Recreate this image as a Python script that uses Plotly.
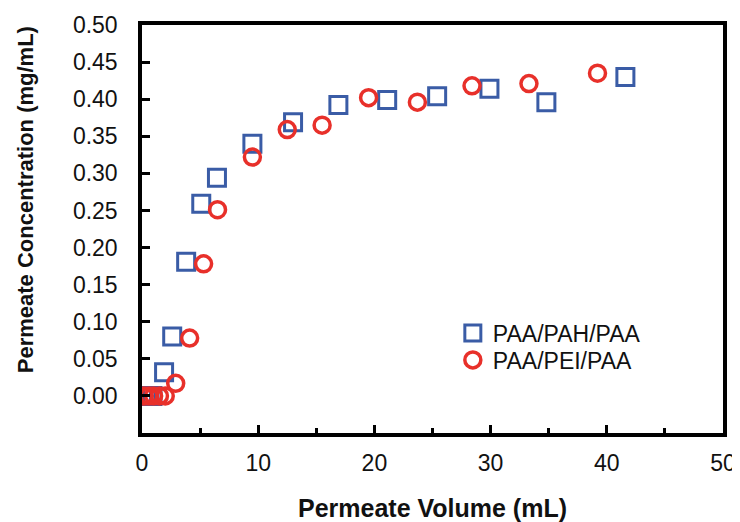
import plotly.graph_objects as go

pah_x = [0.0, 0.4, 0.9, 1.9, 2.6, 3.8, 5.1, 6.45, 9.5, 13.0, 16.9, 21.1, 25.4, 29.9, 34.8, 41.6]
pah_y = [0.0, 0.0, 0.0, 0.032, 0.080, 0.181, 0.259, 0.294, 0.340, 0.369, 0.392, 0.399, 0.404, 0.414, 0.396, 0.430]

pei_x = [0.2, 0.6, 1.0, 1.5, 2.0, 2.9, 4.1, 5.3, 6.5, 9.5, 12.5, 15.5, 19.5, 23.7, 28.4, 33.3, 39.2]
pei_y = [0.0, 0.0, 0.0, 0.0, 0.0, 0.017, 0.078, 0.178, 0.251, 0.322, 0.359, 0.365, 0.402, 0.396, 0.418, 0.421, 0.435]

series_names = ["PAA/PAH/PAA", "PAA/PEI/PAA"]
y_ticks = [0.0, 0.05, 0.10, 0.15, 0.20, 0.25, 0.30, 0.35, 0.40, 0.45, 0.50]
x_ticks = [0, 10, 20, 30, 40, 50]

blue = "#3a5ca6"
red = "#e8302a"
font = "Liberation Sans, Arial, sans-serif"

fig = go.Figure()
fig.add_trace(go.Scatter(
    x=pah_x, y=pah_y, mode="markers", name=series_names[0], legend="legend",
    marker=dict(symbol="square-open", size=17, color=blue, line=dict(width=3, color=blue)),
))
fig.add_trace(go.Scatter(
    x=pei_x, y=pei_y, mode="markers", name=series_names[1], legend="legend2",
    marker=dict(symbol="circle-open", size=16, color=red, line=dict(width=3.5, color=red)),
))

leg_common = dict(xanchor="left", yanchor="middle", bgcolor="rgba(0,0,0,0)",
                  font=dict(size=23, family=font, color="#111111"), itemwidth=30)

fig.update_layout(
    width=732, height=514,
    margin=dict(l=134, r=17, t=17, b=89, autoexpand=False),
    paper_bgcolor="white", plot_bgcolor="white",
    font=dict(family=font, size=23, color="#111111"),
    showlegend=True,
    legend=dict(x=0.535, y=0.245, **leg_common),
    legend2=dict(x=0.535, y=0.179, **leg_common),
    annotations=[dict(
        text="<b>Permeate Concentration (mg/mL)</b>", textangle=-90,
        xref="paper", yref="paper", x=-0.201, y=0.571,
        xanchor="center", yanchor="middle", showarrow=False,
        font=dict(size=22, family=font, color="#111111"),
    )],
)
fig.update_xaxes(
    range=[0, 50], tickvals=x_ticks, ticktext=[str(v) for v in x_ticks],
    showgrid=False, zeroline=False, automargin=False,
    showline=True, linecolor="black", linewidth=3.5, mirror=True,
    ticks="inside", ticklen=8, tickwidth=3, tickcolor="black",
    minor=dict(dtick=5, ticks="inside", ticklen=5, tickwidth=3, tickcolor="black"),
    ticklabelstandoff=7,
    title=dict(text="<b>Permeate Volume (mL)</b>", font=dict(size=25, family=font), standoff=26),
)
fig.update_yaxes(
    range=[-0.05, 0.5], tickvals=y_ticks, ticktext=["%.2f" % v for v in y_ticks],
    showgrid=False, zeroline=False, automargin=False,
    showline=True, linecolor="black", linewidth=3.5, mirror=True,
    ticks="inside", ticklen=8, tickwidth=3, tickcolor="black",
    ticklabelstandoff=16,
)

fig.write_html("out.html")
